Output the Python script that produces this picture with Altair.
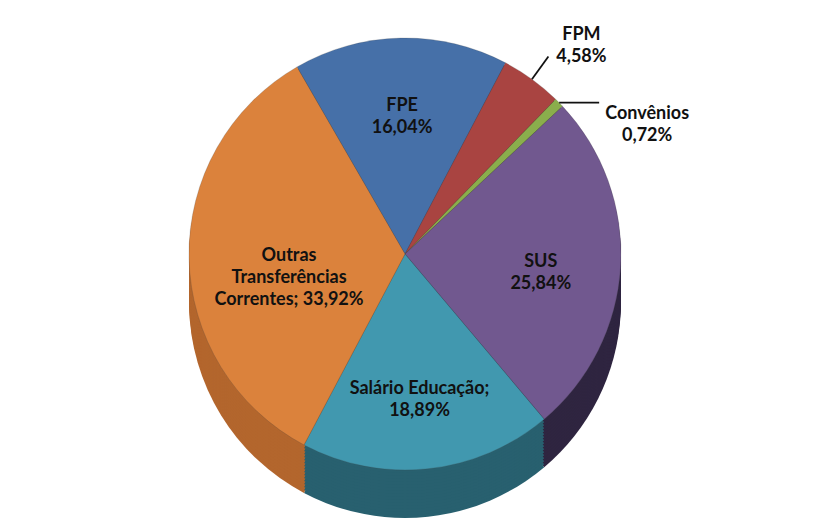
import math
import altair as alt
import pandas as pd

# ---- data ----
categories = ["FPE", "FPM", "Convênios", "SUS", "Salário Educação",
              "Outras Transferências Correntes"]
values = [16.04, 4.58, 0.72, 25.84, 18.89, 33.92]
label_texts = ["FPE\n16,04%", "FPM\n4,58%", "Convênios\n0,72%", "SUS\n25,84%",
               "Salário Educação;\n18,89%",
               "Outras\nTransferências\nCorrentes; 33,92%"]

# ---- style ----
top_colors = ["#4670A8", "#A94441", "#8AAE4C", "#71588F", "#4198AF", "#DB823C"]
side_colors = ["#2E4D78", "#722D2B", "#5C7533", "#2F2540", "#28606F", "#B3662D"]
FONT = "Lato"
CX, CY, R, DEPTH = 397, 246, 216, 48
START = -30 * math.pi / 180
outside = ["FPM", "Convênios"]

df = pd.DataFrame({"cat": categories, "value": values,
                   "label": label_texts, "order": list(range(len(categories)))})

theta = alt.Theta("value:Q", stack=True,
                  scale=alt.Scale(range=[START, START + 2 * math.pi]))
order = alt.Order("order:Q", sort="ascending")

side_layers = []
for k in range(DEPTH, 0, -3):
    side_layers.append(
        alt.Chart(df).mark_arc(radius=R).encode(
            theta=theta, order=order,
            x=alt.value(CX), y=alt.value(CY + k),
            color=alt.Color("cat:N", scale=alt.Scale(domain=categories, range=side_colors),
                            legend=None),
        )
    )
sides = alt.layer(*side_layers)

top = alt.Chart(df).mark_arc(radius=R, stroke="#3a3a3a", strokeWidth=0.4,
                             strokeOpacity=0.5).encode(
    theta=theta, order=order,
    x=alt.value(CX), y=alt.value(CY),
    color=alt.Color("cat:N", scale=alt.Scale(domain=categories, range=top_colors),
                    legend=None),
)

geo = (
    alt.Chart(df)
    .transform_window(cum="sum(value)", sort=[alt.SortField("order", order="ascending")],
                      frame=[None, 0])
    .transform_joinaggregate(total="sum(value)")
    .transform_calculate(
        mid=f"{START} + (datum.cum - datum.value/2) / datum.total * 2 * PI")
    .transform_calculate(
        lr="datum.cat == 'FPE' ? 148 : (datum.cat == 'Outras Transferências Correntes' ? 116 : 136)")
    .transform_calculate(
        lx=f"{CX} + datum.lr * sin(datum.mid)",
        ly=f"{CY} - datum.lr * cos(datum.mid)",
        ex=f"{CX} + {R} * sin(datum.mid)",
        ey=f"{CY} - {R} * cos(datum.mid)",
    )
    .transform_calculate(
        ex2=f"datum.cat == 'FPM' ? {CX} + {R + 28} * sin(datum.mid) : datum.ex + 40",
        ey2=f"datum.cat == 'FPM' ? {CY} - {R + 28} * cos(datum.mid) : datum.ey",
    )
    .transform_calculate(
        tx="datum.cat == 'FPM' ? datum.ex2 + 33 : datum.ex2 + 48",
        ty="datum.cat == 'FPM' ? datum.ey2 - 22 : datum.ey2 + 11",
    )
)

text_style = dict(font=FONT, fontSize=18, fontWeight="bold", color="#111111",
                  align="center", baseline="middle", lineBreak="\n", lineHeight=22)

inner = geo.transform_filter(
    alt.FieldOneOfPredicate(field="cat", oneOf=[c for c in categories if c not in outside])
).mark_text(**text_style).encode(
    x=alt.X("lx:Q", scale=None), y=alt.Y("ly:Q", scale=None), text="label:N")

out_geo = geo.transform_filter(alt.FieldOneOfPredicate(field="cat", oneOf=outside))
leaders = out_geo.mark_rule(color="#111111", strokeWidth=1.8).encode(
    x=alt.X("ex:Q", scale=None), y=alt.Y("ey:Q", scale=None),
    x2="ex2:Q", y2="ey2:Q")
out_text = out_geo.mark_text(**text_style).encode(
    x=alt.X("tx:Q", scale=None), y=alt.Y("ty:Q", scale=None), text="label:N")

chart = alt.layer(sides, top, inner, leaders, out_text).resolve_scale(
    color="independent"
).properties(
    width=811, height=513, padding=0, background="white"
).configure_view(stroke=None)

chart.save("out.html", embed_options={"renderer": "svg", "actions": False})
